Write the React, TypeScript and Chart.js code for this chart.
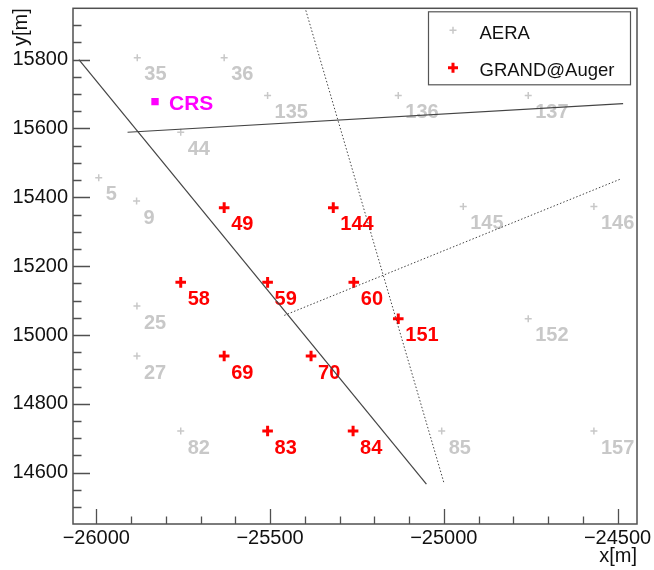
import React, { useEffect, useRef } from "react";
import { Chart, registerables } from "chart.js";

Chart.register(...registerables);

// ---- data ----
const aeraLabels = ["35", "36", "135", "136", "137", "44", "5", "9", "145", "146", "25", "27", "152", "82", "85", "157"];
const aeraX = [-25882, -25632, -25507, -25131, -24757, -25757, -25993, -25884, -24944, -24568, -25883, -25883, -24757, -25757, -25006, -24568];
const aeraY = [15805, 15805, 15696, 15696, 15696, 15589, 15457, 15389, 15373, 15373, 15084, 14939, 15047, 14721, 14721, 14721];

const grandLabels = ["49", "144", "58", "59", "60", "151", "69", "70", "83", "84"];
const grandX = [-25632, -25318, -25757, -25507, -25259, -25131, -25632, -25382, -25507, -25261];
const grandY = [15370, 15370, 15153, 15153, 15153, 15047, 14939, 14939, 14721, 14721];

const crsLabel = "CRS";
const crsX = [-25831];
const crsY = [15678];

const solidLineAX = [-26050, -25050];
const solidLineAY = [15800, 14567];
const solidLineBX = [-25910, -24484];
const solidLineBY = [15589, 15672];
const dottedLineAX = [-25397, -25000];
const dottedLineAY = [15943, 14572];
const dottedLineBX = [-25459, -24489];
const dottedLineBY = [15057, 15454];

const xTicks = [-26000, -25500, -25000, -24500];
const yTicks = [14600, 14800, 15000, 15200, 15400, 15600, 15800];
const xMinorStep = 100;
const yMinorStep = 50;
const xRange = [-26067, -24444];
const yRange = [14451, 15949];

const legendLabels = ["AERA", "GRAND@Auger"];

// ---- styles ----
const FONT = "'Liberation Sans', Arial, Helvetica, sans-serif";
const GRAY = "#c8c8c8";
const RED = "#ff0000";
const MAGENTA = "#ff00ff";

const pts = (xs: number[], ys: number[]) => xs.map((x, i) => ({ x, y: ys[i] }));
const fmt = (v: number) => (v < 0 ? "\u2212" + Math.abs(v) : String(v));

const labelPlugin = {
  id: "pointLabels",
  beforeDatasetsDraw(chart: any) {
    const ctx = chart.ctx;
    ctx.save();
    ctx.textBaseline = "alphabetic";
    ctx.textAlign = "left";
    const draw = (idx: number, labels: string[], color: string, dx: number, dy: number) => {
      const meta = chart.getDatasetMeta(idx);
      ctx.fillStyle = color;
      meta.data.forEach((el: any, i: number) => {
        ctx.fillText(labels[i], el.x + dx, el.y + dy);
      });
    };
    ctx.font = `bold 20px ${FONT}`;
    draw(4, aeraLabels, GRAY, 7, 22.5);
    draw(5, grandLabels, RED, 7, 22.5);
    ctx.font = `bold 21px ${FONT}`;
    draw(6, [crsLabel], MAGENTA, 14, 8.5);
    ctx.restore();
  },
};

const frameTicksPlugin = {
  id: "frameTicks",
  afterDraw(chart: any) {
    const { ctx, chartArea: a } = chart;
    const xs = chart.scales.x;
    const ys = chart.scales.y;
    ctx.save();
    ctx.strokeStyle = "#505050";
    ctx.lineWidth = 1.5;
    ctx.strokeRect(a.left, a.top, a.right - a.left, a.bottom - a.top);
    ctx.lineWidth = 1.3;
    ctx.beginPath();
    for (let v = Math.ceil(xs.min / xMinorStep) * xMinorStep; v <= xs.max; v += xMinorStep) {
      const px = Math.round(xs.getPixelForValue(v)) + 0.5;
      const len = xTicks.includes(v) ? 15 : 7.5;
      ctx.moveTo(px, a.bottom);
      ctx.lineTo(px, a.bottom - len);
    }
    for (let v = Math.ceil(ys.min / yMinorStep) * yMinorStep; v <= ys.max; v += yMinorStep) {
      const py = Math.round(ys.getPixelForValue(v)) + 0.5;
      const len = yTicks.includes(v) ? 17 : 8.5;
      ctx.moveTo(a.left, py);
      ctx.lineTo(a.left + len, py);
    }
    ctx.stroke();

    // legend
    const bx = a.right - 208.5;
    const by = a.top + 3.5;
    ctx.lineWidth = 1.2;
    ctx.strokeStyle = "#555";
    ctx.strokeRect(bx, by, 202, 73);
    const cross = (cx: number, cy: number, r: number, w: number, color: string) => {
      ctx.strokeStyle = color;
      ctx.lineWidth = w;
      ctx.beginPath();
      ctx.moveTo(cx - r, cy);
      ctx.lineTo(cx + r, cy);
      ctx.moveTo(cx, cy - r);
      ctx.lineTo(cx, cy + r);
      ctx.stroke();
    };
    cross(bx + 24.5, by + 18.5, 3.5, 1.5, GRAY);
    cross(bx + 24.5, by + 56, 5, 3, RED);
    ctx.fillStyle = "#111";
    ctx.font = `18.5px ${FONT}`;
    ctx.textAlign = "left";
    ctx.textBaseline = "alphabetic";
    ctx.fillText(legendLabels[0], bx + 51, by + 27);
    ctx.fillText(legendLabels[1], bx + 51, by + 64.5);
    ctx.restore();
  },
};

export default function App() {
  const ref = useRef<HTMLCanvasElement>(null);
  useEffect(() => {
    if (!ref.current) return;
    const lineDs = (xs: number[], ys: number[], dash: number[], color: string, w: number) => ({
      data: pts(xs, ys),
      showLine: true,
      borderColor: color,
      borderWidth: w,
      borderDash: dash,
      pointRadius: 0,
      fill: false,
    });
    const chart = new Chart(ref.current, {
      type: "scatter",
      data: {
        datasets: [
          lineDs(solidLineAX, solidLineAY, [], "#444", 1.2),
          lineDs(solidLineBX, solidLineBY, [], "#444", 1.2),
          lineDs(dottedLineAX, dottedLineAY, [1.5, 2], "#444", 1),
          lineDs(dottedLineBX, dottedLineBY, [1.5, 2], "#444", 1),
          {
            label: legendLabels[0],
            data: pts(aeraX, aeraY),
            pointStyle: "cross",
            pointRadius: 3.5,
            borderWidth: 1.5,
            borderColor: GRAY,
            backgroundColor: GRAY,
          } as any,
          {
            label: legendLabels[1],
            data: pts(grandX, grandY),
            pointStyle: "cross",
            pointRadius: 5.3,
            borderWidth: 3,
            borderColor: RED,
            backgroundColor: RED,
          } as any,
          {
            label: crsLabel,
            data: pts(crsX, crsY),
            pointStyle: "rect",
            pointRadius: 5.2,
            borderWidth: 0,
            borderColor: MAGENTA,
            backgroundColor: MAGENTA,
          } as any,
        ],
      },
      options: {
        animation: false,
        responsive: false,
        devicePixelRatio: 1,
        layout: { padding: { left: 0, top: 5, right: 17, bottom: 0 } },
        plugins: { legend: { display: false }, tooltip: { enabled: false } },
        scales: {
          x: {
            type: "linear",
            min: xRange[0],
            max: xRange[1],
            grid: { display: false, drawTicks: false },
            border: { display: false },
            ticks: {
              font: { family: FONT, size: 20, lineHeight: 1.2 },
              color: "#111",
              padding: 2,
              maxRotation: 0,
              callback: (v: any) => fmt(Number(v)),
            },
            afterBuildTicks: (s: any) => {
              s.ticks = xTicks.map((v) => ({ value: v }));
            },
            afterFit: (s: any) => {
              s.height = 46;
              s.paddingLeft = 0;
              s.paddingRight = 0;
              s.paddingTop = 0;
              s.paddingBottom = 0;
            },
            title: {
              display: true,
              text: "x[m]",
              align: "end",
              color: "#111",
              font: { family: FONT, size: 20, lineHeight: 1.2 },
              padding: { top: 0, bottom: 2 },
            },
          },
          y: {
            type: "linear",
            min: yRange[0],
            max: yRange[1],
            grid: { display: false, drawTicks: false },
            border: { display: false },
            ticks: {
              font: { family: FONT, size: 20, lineHeight: 1.2 },
              color: "#111",
              padding: 5,
              callback: (v: any) => fmt(Number(v)),
            },
            afterBuildTicks: (s: any) => {
              s.ticks = yTicks.map((v) => ({ value: v }));
            },
            afterFit: (s: any) => {
              s.width = 73;
              s.paddingLeft = 0;
              s.paddingRight = 0;
              s.paddingTop = 0;
              s.paddingBottom = 0;
            },
            title: {
              display: true,
              text: "y[m]",
              align: "end",
              color: "#111",
              font: { family: FONT, size: 20, lineHeight: 1.2 },
              padding: { top: 9, bottom: 0 },
            },
          },
        },
      },
      plugins: [labelPlugin, frameTicksPlugin],
    } as any);
    return () => chart.destroy();
  }, []);
  return (
    <div style={{ position: "fixed", left: 0, top: 0, width: 654, height: 570, background: "#fff" }}>
      <canvas ref={ref} width={654} height={570} />
    </div>
  );
}
